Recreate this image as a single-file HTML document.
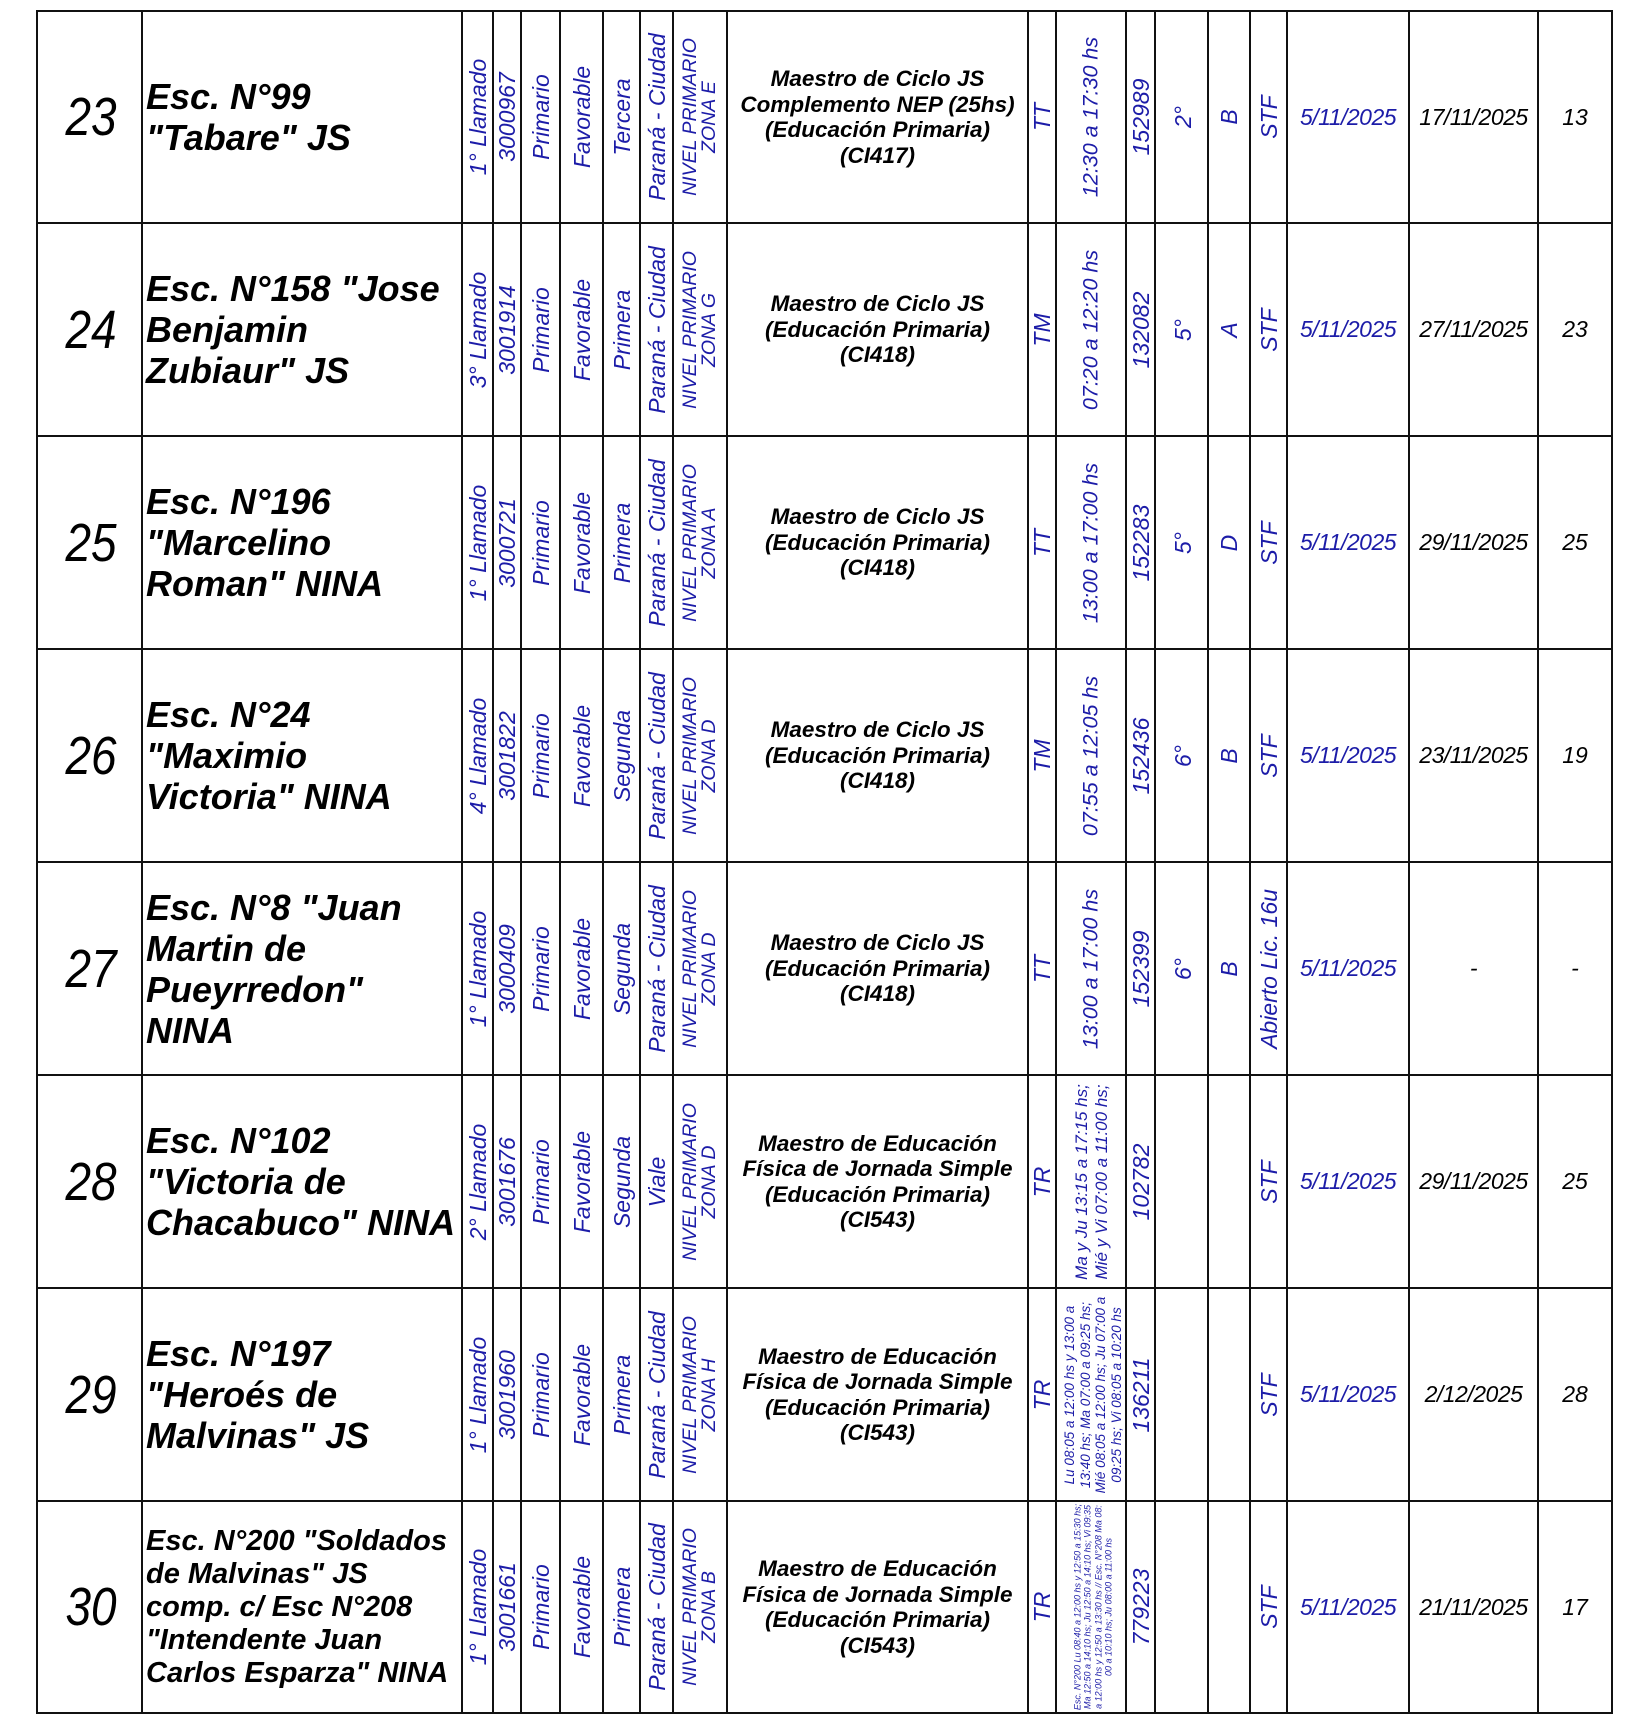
<!DOCTYPE html>
<html><head><meta charset="utf-8">
<style>
html,body{margin:0;padding:0;background:#fff;}
#p{position:relative;width:1650px;height:1730px;overflow:hidden;background:#fff;font-family:"Liberation Sans",Arial,sans-serif;}
.h{position:absolute;left:36px;width:1577px;height:2px;background:#111;}
.w{position:absolute;top:10px;height:1704px;width:2px;background:#111;}
.v{position:absolute;transform:translate(-50%,-50%) rotate(-90deg);white-space:nowrap;font-style:italic;font-size:23px;line-height:1.05;color:#1c1ca8;text-align:center;}
.hs{font-size:21.5px;}
.nv{font-size:19.5px;line-height:19px;}
.h28{font-size:17px;line-height:20px;}
.h29{font-size:13.5px;line-height:15.5px;}
.h30{font-size:9px;line-height:10.3px;}
.c{position:absolute;display:flex;align-items:center;justify-content:center;text-align:center;white-space:nowrap;}
.num{left:39px;width:105px;font-style:italic;font-size:54px;color:#000;}
.num span{display:inline-block;transform:scaleX(.85);}
.nm{left:146px;width:320px;justify-content:flex-start;text-align:left;font-weight:bold;font-style:italic;font-size:36px;line-height:41px;color:#000;}
.nm30{font-size:29px;line-height:33px;}
.ma{left:727px;width:301px;font-weight:bold;font-style:italic;font-size:22.5px;line-height:25.5px;color:#000;}
.d1{left:1287px;width:122px;font-style:italic;font-size:23px;letter-spacing:-0.5px;color:#1c1ca8;}
.d2{left:1409px;width:129px;font-style:italic;font-size:23px;letter-spacing:-0.5px;color:#000;}
.d3{left:1538px;width:74px;font-style:italic;font-size:23px;color:#000;}
.r1{top:11px;height:212px;}
.r2{top:223px;height:213px;}
.r3{top:436px;height:213px;}
.r4{top:649px;height:213px;}
.r5{top:862px;height:213px;}
.r6{top:1075px;height:213px;}
.r7{top:1288px;height:213px;}
.r8{top:1501px;height:212px;}
</style></head><body><div id="p">

<div class="h" style="top:10px"></div>
<div class="h" style="top:222px"></div>
<div class="h" style="top:435px"></div>
<div class="h" style="top:648px"></div>
<div class="h" style="top:861px"></div>
<div class="h" style="top:1074px"></div>
<div class="h" style="top:1287px"></div>
<div class="h" style="top:1500px"></div>
<div class="h" style="top:1712px"></div>
<div class="w" style="left:36px"></div>
<div class="w" style="left:141px"></div>
<div class="w" style="left:461px"></div>
<div class="w" style="left:492px"></div>
<div class="w" style="left:520px"></div>
<div class="w" style="left:559px"></div>
<div class="w" style="left:602px"></div>
<div class="w" style="left:639px"></div>
<div class="w" style="left:672px"></div>
<div class="w" style="left:726px"></div>
<div class="w" style="left:1027px"></div>
<div class="w" style="left:1055px"></div>
<div class="w" style="left:1125px"></div>
<div class="w" style="left:1154px"></div>
<div class="w" style="left:1207px"></div>
<div class="w" style="left:1249px"></div>
<div class="w" style="left:1286px"></div>
<div class="w" style="left:1408px"></div>
<div class="w" style="left:1537px"></div>
<div class="w" style="left:1611px"></div>

<!-- ROW 23 -->
<div class="c num r1"><span>23</span></div>
<div class="c nm r1"><div>Esc. N°99<br>"Tabare" JS</div></div>
<div class="v" style="left:477.5px;top:117px">1° Llamado</div>
<div class="v" style="left:507px;top:117px">3000967</div>
<div class="v" style="left:540.5px;top:117px">Primario</div>
<div class="v" style="left:581.5px;top:117px">Favorable</div>
<div class="v" style="left:621.5px;top:117px">Tercera</div>
<div class="v" style="left:656.5px;top:117px">Paraná - Ciudad</div>
<div class="v nv" style="left:700px;top:117px">NIVEL PRIMARIO<br>ZONA E</div>
<div class="c ma r1"><div>Maestro de Ciclo JS<br>Complemento NEP (25hs)<br>(Educación Primaria)<br>(CI417)</div></div>
<div class="v" style="left:1042px;top:117px">TT</div>
<div class="v hs" style="left:1091px;top:117px">12:30 a 17:30 hs</div>
<div class="v" style="left:1140.5px;top:117px">152989</div>
<div class="v" style="left:1182.5px;top:117px">2°</div>
<div class="v" style="left:1229px;top:117px">B</div>
<div class="v" style="left:1268.5px;top:117px">STF</div>
<div class="c d1 r1">5/11/2025</div>
<div class="c d2 r1">17/11/2025</div>
<div class="c d3 r1">13</div>

<!-- ROW 24 -->
<div class="c num r2"><span>24</span></div>
<div class="c nm r2"><div>Esc. N°158 "Jose<br>Benjamin<br>Zubiaur" JS</div></div>
<div class="v" style="left:477.5px;top:329.5px">3° Llamado</div>
<div class="v" style="left:507px;top:329.5px">3001914</div>
<div class="v" style="left:540.5px;top:329.5px">Primario</div>
<div class="v" style="left:581.5px;top:329.5px">Favorable</div>
<div class="v" style="left:621.5px;top:329.5px">Primera</div>
<div class="v" style="left:656.5px;top:329.5px">Paraná - Ciudad</div>
<div class="v nv" style="left:700px;top:329.5px">NIVEL PRIMARIO<br>ZONA G</div>
<div class="c ma r2"><div>Maestro de Ciclo JS<br>(Educación Primaria)<br>(CI418)</div></div>
<div class="v" style="left:1042px;top:329.5px">TM</div>
<div class="v hs" style="left:1091px;top:329.5px">07:20 a 12:20 hs</div>
<div class="v" style="left:1140.5px;top:329.5px">132082</div>
<div class="v" style="left:1182.5px;top:329.5px">5°</div>
<div class="v" style="left:1229px;top:329.5px">A</div>
<div class="v" style="left:1268.5px;top:329.5px">STF</div>
<div class="c d1 r2">5/11/2025</div>
<div class="c d2 r2">27/11/2025</div>
<div class="c d3 r2">23</div>

<!-- ROW 25 -->
<div class="c num r3"><span>25</span></div>
<div class="c nm r3"><div>Esc. N°196<br>"Marcelino<br>Roman" NINA</div></div>
<div class="v" style="left:477.5px;top:542.5px">1° Llamado</div>
<div class="v" style="left:507px;top:542.5px">3000721</div>
<div class="v" style="left:540.5px;top:542.5px">Primario</div>
<div class="v" style="left:581.5px;top:542.5px">Favorable</div>
<div class="v" style="left:621.5px;top:542.5px">Primera</div>
<div class="v" style="left:656.5px;top:542.5px">Paraná - Ciudad</div>
<div class="v nv" style="left:700px;top:542.5px">NIVEL PRIMARIO<br>ZONA A</div>
<div class="c ma r3"><div>Maestro de Ciclo JS<br>(Educación Primaria)<br>(CI418)</div></div>
<div class="v" style="left:1042px;top:542.5px">TT</div>
<div class="v hs" style="left:1091px;top:542.5px">13:00 a 17:00 hs</div>
<div class="v" style="left:1140.5px;top:542.5px">152283</div>
<div class="v" style="left:1182.5px;top:542.5px">5°</div>
<div class="v" style="left:1229px;top:542.5px">D</div>
<div class="v" style="left:1268.5px;top:542.5px">STF</div>
<div class="c d1 r3">5/11/2025</div>
<div class="c d2 r3">29/11/2025</div>
<div class="c d3 r3">25</div>

<!-- ROW 26 -->
<div class="c num r4"><span>26</span></div>
<div class="c nm r4"><div>Esc. N°24<br>"Maximio<br>Victoria" NINA</div></div>
<div class="v" style="left:477.5px;top:755.5px">4° Llamado</div>
<div class="v" style="left:507px;top:755.5px">3001822</div>
<div class="v" style="left:540.5px;top:755.5px">Primario</div>
<div class="v" style="left:581.5px;top:755.5px">Favorable</div>
<div class="v" style="left:621.5px;top:755.5px">Segunda</div>
<div class="v" style="left:656.5px;top:755.5px">Paraná - Ciudad</div>
<div class="v nv" style="left:700px;top:755.5px">NIVEL PRIMARIO<br>ZONA D</div>
<div class="c ma r4"><div>Maestro de Ciclo JS<br>(Educación Primaria)<br>(CI418)</div></div>
<div class="v" style="left:1042px;top:755.5px">TM</div>
<div class="v hs" style="left:1091px;top:755.5px">07:55 a 12:05 hs</div>
<div class="v" style="left:1140.5px;top:755.5px">152436</div>
<div class="v" style="left:1182.5px;top:755.5px">6°</div>
<div class="v" style="left:1229px;top:755.5px">B</div>
<div class="v" style="left:1268.5px;top:755.5px">STF</div>
<div class="c d1 r4">5/11/2025</div>
<div class="c d2 r4">23/11/2025</div>
<div class="c d3 r4">19</div>

<!-- ROW 27 -->
<div class="c num r5"><span>27</span></div>
<div class="c nm r5"><div>Esc. N°8 "Juan<br>Martin de<br>Pueyrredon"<br>NINA</div></div>
<div class="v" style="left:477.5px;top:968.5px">1° Llamado</div>
<div class="v" style="left:507px;top:968.5px">3000409</div>
<div class="v" style="left:540.5px;top:968.5px">Primario</div>
<div class="v" style="left:581.5px;top:968.5px">Favorable</div>
<div class="v" style="left:621.5px;top:968.5px">Segunda</div>
<div class="v" style="left:656.5px;top:968.5px">Paraná - Ciudad</div>
<div class="v nv" style="left:700px;top:968.5px">NIVEL PRIMARIO<br>ZONA D</div>
<div class="c ma r5"><div>Maestro de Ciclo JS<br>(Educación Primaria)<br>(CI418)</div></div>
<div class="v" style="left:1042px;top:968.5px">TT</div>
<div class="v hs" style="left:1091px;top:968.5px">13:00 a 17:00 hs</div>
<div class="v" style="left:1140.5px;top:968.5px">152399</div>
<div class="v" style="left:1182.5px;top:968.5px">6°</div>
<div class="v" style="left:1229px;top:968.5px">B</div>
<div class="v" style="left:1268.5px;top:968.5px">Abierto Lic. 16u</div>
<div class="c d1 r5">5/11/2025</div>
<div class="c d2 r5">-</div>
<div class="c d3 r5">-</div>

<!-- ROW 28 -->
<div class="c num r6"><span>28</span></div>
<div class="c nm r6"><div>Esc. N°102<br>"Victoria de<br>Chacabuco" NINA</div></div>
<div class="v" style="left:477.5px;top:1181.5px">2° Llamado</div>
<div class="v" style="left:507px;top:1181.5px">3001676</div>
<div class="v" style="left:540.5px;top:1181.5px">Primario</div>
<div class="v" style="left:581.5px;top:1181.5px">Favorable</div>
<div class="v" style="left:621.5px;top:1181.5px">Segunda</div>
<div class="v" style="left:656.5px;top:1181.5px">Viale</div>
<div class="v nv" style="left:700px;top:1181.5px">NIVEL PRIMARIO<br>ZONA D</div>
<div class="c ma r6"><div>Maestro de Educación<br>Física de Jornada Simple<br>(Educación Primaria)<br>(CI543)</div></div>
<div class="v" style="left:1042px;top:1181.5px">TR</div>
<div class="v h28" style="left:1092px;top:1181.5px">Ma y Ju 13:15 a 17:15 hs;<br>Mié y Vi 07:00 a 11:00 hs;</div>
<div class="v" style="left:1140.5px;top:1181.5px">102782</div>
<div class="v" style="left:1268.5px;top:1181.5px">STF</div>
<div class="c d1 r6">5/11/2025</div>
<div class="c d2 r6">29/11/2025</div>
<div class="c d3 r6">25</div>

<!-- ROW 29 -->
<div class="c num r7"><span>29</span></div>
<div class="c nm r7"><div>Esc. N°197<br>"Heroés de<br>Malvinas" JS</div></div>
<div class="v" style="left:477.5px;top:1394.5px">1° Llamado</div>
<div class="v" style="left:507px;top:1394.5px">3001960</div>
<div class="v" style="left:540.5px;top:1394.5px">Primario</div>
<div class="v" style="left:581.5px;top:1394.5px">Favorable</div>
<div class="v" style="left:621.5px;top:1394.5px">Primera</div>
<div class="v" style="left:656.5px;top:1394.5px">Paraná - Ciudad</div>
<div class="v nv" style="left:700px;top:1394.5px">NIVEL PRIMARIO<br>ZONA H</div>
<div class="c ma r7"><div>Maestro de Educación<br>Física de Jornada Simple<br>(Educación Primaria)<br>(CI543)</div></div>
<div class="v" style="left:1042px;top:1394.5px">TR</div>
<div class="v h29" style="left:1093px;top:1394.5px">Lu 08:05 a 12:00 hs y 13:00 a<br>13:40 hs; Ma 07:00 a 09:25 hs;<br>Mié 08:05 a 12:00 hs; Ju 07:00 a<br>09:25 hs; Vi 08:05 a 10:20 hs</div>
<div class="v" style="left:1140.5px;top:1394.5px">136211</div>
<div class="v" style="left:1268.5px;top:1394.5px">STF</div>
<div class="c d1 r7">5/11/2025</div>
<div class="c d2 r7">2/12/2025</div>
<div class="c d3 r7">28</div>

<!-- ROW 30 -->
<div class="c num r8"><span>30</span></div>
<div class="c nm nm30 r8"><div>Esc. N°200 "Soldados<br>de Malvinas" JS<br>comp. c/ Esc N°208<br>"Intendente Juan<br>Carlos Esparza" NINA</div></div>
<div class="v" style="left:477.5px;top:1607px">1° Llamado</div>
<div class="v" style="left:507px;top:1607px">3001661</div>
<div class="v" style="left:540.5px;top:1607px">Primario</div>
<div class="v" style="left:581.5px;top:1607px">Favorable</div>
<div class="v" style="left:621.5px;top:1607px">Primera</div>
<div class="v" style="left:656.5px;top:1607px">Paraná - Ciudad</div>
<div class="v nv" style="left:700px;top:1607px">NIVEL PRIMARIO<br>ZONA B</div>
<div class="c ma r8"><div>Maestro de Educación<br>Física de Jornada Simple<br>(Educación Primaria)<br>(CI543)</div></div>
<div class="v" style="left:1042px;top:1607px">TR</div>
<div class="v h30" style="left:1093px;top:1607px">Esc. N°200 Lu 08:40 a 12:00 hs y 12:50 a 15:30 hs;<br>Ma 12:50 a 14:10 hs; Ju 12:50 a 14:10 hs; Vi 09:35<br>a 12:00 hs y 12:50 a 13:30 hs // Esc. N°208 Ma 08:<br>00 a 10:10 hs; Ju 08:00 a 11:00 hs</div>
<div class="v" style="left:1140.5px;top:1607px">779223</div>
<div class="v" style="left:1268.5px;top:1607px">STF</div>
<div class="c d1 r8">5/11/2025</div>
<div class="c d2 r8">21/11/2025</div>
<div class="c d3 r8">17</div>

</div></body></html>
